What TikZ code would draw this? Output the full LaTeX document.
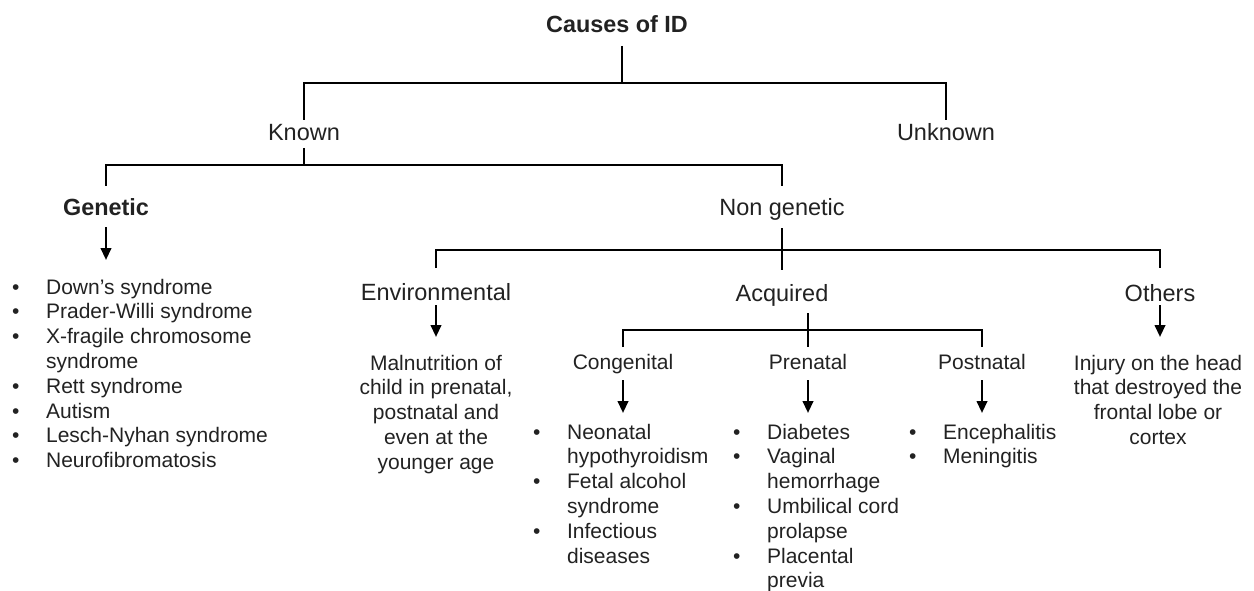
\documentclass[tikz,border=0pt]{standalone}
\usepackage{fontspec}
\setmainfont{Liberation Sans}
\usetikzlibrary{arrows.meta}
\definecolor{txt}{HTML}{222222}
\begin{document}
\begin{tikzpicture}[x=1pt,y=-1pt,
  tree/.style={line width=2.6pt},
  arr/.style={line width=2.4pt,-{Triangle[length=12pt,width=10.5pt]}},
  head/.style={inner sep=0pt,anchor=base,text=txt,font=\fontsize{23.5}{28}\selectfont},
  headb/.style={inner sep=0pt,anchor=base,text=txt,font=\fontsize{23.4}{28}\selectfont\bfseries},
  sub/.style={inner sep=0pt,anchor=base,text=txt,font=\fontsize{21}{24.8}\selectfont},
  lst/.style={sub,anchor=base west},
]
\useasboundingbox (0,0) rectangle (1254,591);

% nodes
\node[headb] (title) at (617,33) {Causes of ID};
\node[head] (known) at (304,140.4) {Known};
\node[head] (unknown) at (946,140.4) {Unknown};
\node[headb] (genetic) at (106,215.4) {Genetic};
\node[head] (nongen) at (782,215.4) {Non genetic};
\node[head] (env) at (436,300) {Environmental};
\node[head] (acquired) at (782,301) {Acquired};
\node[head] (others) at (1160,301) {Others};
\node[sub] (congenital) at (623,369) {Congenital};
\node[sub] (prenatal) at (808,369) {Prenatal};
\node[sub] (postnatal) at (982,369) {Postnatal};

\node[sub] (malnu) at (436,370) {\begin{tabular}[t]{@{}c@{}}Malnutrition of\\child in prenatal,\\postnatal and\\even at the\\younger age\end{tabular}};
\node[sub] (injury) at (1158,370) {\begin{tabular}[t]{@{}c@{}}Injury on the head\\that destroyed the\\frontal lobe or\\cortex\end{tabular}};

\node[lst] (glist) at (12,294) {\begin{tabular}[t]{@{}l@{\hspace{26.6pt}}l@{}}
\textbullet & Down's syndrome\\
\textbullet & Prader-Willi syndrome\\
\textbullet & X-fragile chromosome\\
 & syndrome\\
\textbullet & Rett syndrome\\
\textbullet & Autism\\
\textbullet & Lesch-Nyhan syndrome\\
\textbullet & Neurofibromatosis
\end{tabular}};
\node[lst] (clist) at (533,439) {\begin{tabular}[t]{@{}l@{\hspace{26.6pt}}l@{}}
\textbullet & Neonatal\\
 & hypothyroidism\\
\textbullet & Fetal alcohol\\
 & syndrome\\
\textbullet & Infectious\\
 & diseases
\end{tabular}};
\node[lst] (plist) at (733,439) {\begin{tabular}[t]{@{}l@{\hspace{26.6pt}}l@{}}
\textbullet & Diabetes\\
\textbullet & Vaginal\\
 & hemorrhage\\
\textbullet & Umbilical cord\\
 & prolapse\\
\textbullet & Placental\\
 & previa
\end{tabular}};
\node[lst] (qlist) at (909,439) {\begin{tabular}[t]{@{}l@{\hspace{26.6pt}}l@{}}
\textbullet & Encephalitis\\
\textbullet & Meningitis
\end{tabular}};

% junctions and arrow ends
\coordinate (jTop) at (622,83);
\coordinate (jH2) at (304,165);
\coordinate (jH3) at (783,250);
\coordinate (jH4) at (808,330);
\coordinate (gEnd) at (106,260);
\coordinate (eEnd) at (436,337);
\coordinate (oEnd) at (1160,337);
\coordinate (cEnd) at (623,413);
\coordinate (pEnd) at (808,413);
\coordinate (qEnd) at (982,413);

% connectors
\draw[tree] (title.base -| jTop) ++(0,13) -- (jTop);
\draw[tree] ([yshift=20.4pt]known.base) |- (jTop) -| ([yshift=20.4pt]unknown.base);
\draw[tree] ([yshift=-7.6pt]known.base) -- (jH2);
\draw[tree] ([yshift=29.4pt]genetic.base) |- (jH2) -| ([yshift=29.4pt]nongen.base);
\draw[arr] ([yshift=-11.6pt]genetic.base) -- (gEnd);
\draw[tree] ([yshift=-12.6pt]nongen.base) -- ([yshift=31pt]acquired.base);
\draw[tree] ([yshift=32pt]env.base) |- (jH3) -| ([yshift=33pt]others.base);
\draw[arr] ([yshift=-5pt]env.base) -- (eEnd);
\draw[arr] ([yshift=-4pt]others.base) -- (oEnd);
\draw[tree] (acquired.base -| jH4) ++(0,12) -- ([yshift=22pt]prenatal.base);
\draw[tree] ([yshift=22pt]congenital.base) |- (jH4) -| ([yshift=22pt]postnatal.base);
\draw[arr] ([yshift=-11pt]congenital.base) -- (cEnd);
\draw[arr] ([yshift=-11pt]prenatal.base) -- (pEnd);
\draw[arr] ([yshift=-11pt]postnatal.base) -- (qEnd);
\end{tikzpicture}
\end{document}
